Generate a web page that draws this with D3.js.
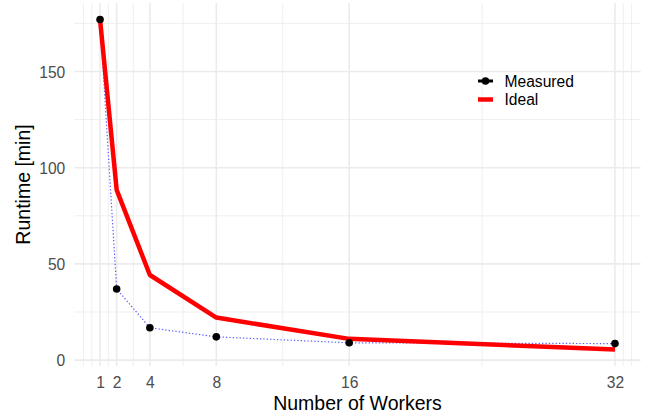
<!DOCTYPE html>
<html><head><meta charset="utf-8">
<script src="https://cdn.jsdelivr.net/npm/d3@7"></script>
<style>body{margin:0;background:#fff}svg{display:block;font-family:"Liberation Sans",Arial,Helvetica,sans-serif}</style>
</head><body><div id="chart"></div>
<script>
const workers = [1, 2, 4, 8, 16, 32];
const measured = [177, 37, 16.8, 12.1, 9, 8.6];
const ideal = [177, 88.5, 44.25, 22.125, 11.06, 5.53];
const xTicks = [1, 2, 4, 8, 16, 32];
const yTicks = [0, 50, 100, 150];
const xMinor = [0, 0.5, 1.5, 3, 6, 12, 24, 32.5, 33];
const yMinor = [25, 75, 125, 175];
const seriesNames = ["Measured", "Ideal"];

const W = 650, H = 418;
const svg = d3.select("#chart").append("svg").attr("width", W).attr("height", H);

const xe = d3.extent(workers), xs = (xe[1]-xe[0])*0.05;
const allY = measured.concat(ideal);
const ye = d3.extent(allY), ys = (ye[1]-ye[0])*0.05;
const x = d3.scaleLinear().domain([xe[0]-xs, xe[1]+xs]).range([74.3, 640.7]);
const y = d3.scaleLinear().domain([ye[0]-ys, ye[1]+ys]).range([366, 3]);
const [px0, px1] = x.range(), [py1, py0] = y.range();

const grid = svg.append("g");
grid.selectAll(".vmin").data(xMinor).join("line")
  .attr("x1", d=>x(d)).attr("x2", d=>x(d)).attr("y1", py0).attr("y2", py1)
  .attr("stroke", "#EBEBEB").attr("stroke-width", 0.8);
grid.selectAll(".hmin").data(yMinor).join("line")
  .attr("y1", d=>y(d)).attr("y2", d=>y(d)).attr("x1", px0).attr("x2", px1)
  .attr("stroke", "#EBEBEB").attr("stroke-width", 0.8);
grid.selectAll(".vmaj").data(xTicks).join("line")
  .attr("x1", d=>x(d)).attr("x2", d=>x(d)).attr("y1", py0).attr("y2", py1)
  .attr("stroke", "#EBEBEB").attr("stroke-width", 1.6);
grid.selectAll(".hmaj").data(yTicks).join("line")
  .attr("y1", d=>y(d)).attr("y2", d=>y(d)).attr("x1", px0).attr("x2", px1)
  .attr("stroke", "#EBEBEB").attr("stroke-width", 1.6);

// axes (text only)
const xAxis = svg.append("g").attr("transform", `translate(0,${py1})`)
  .call(d3.axisBottom(x).tickValues(xTicks).tickSize(0).tickPadding(0).tickFormat(d3.format("d")));
xAxis.select(".domain").remove();
xAxis.selectAll("text").attr("y", 22).attr("dy", 0).attr("font-size", 15.6).attr("fill", "#4D4D4D")
  .attr("font-family", '"Liberation Sans",Arial,sans-serif');
const yAxis = svg.append("g").attr("transform", `translate(${px0},0)`)
  .call(d3.axisLeft(y).tickValues(yTicks).tickSize(0).tickPadding(0).tickFormat(d3.format("d")));
yAxis.select(".domain").remove();
yAxis.selectAll("text").attr("x", -9).attr("dy", "0.36em").attr("font-size", 15.6).attr("fill", "#4D4D4D")
  .attr("font-family", '"Liberation Sans",Arial,sans-serif');

svg.append("text").attr("x", (px0+px1)/2).attr("y", 410).attr("text-anchor", "middle")
  .attr("font-size", 19.5).attr("fill", "#000").text("Number of Workers");
svg.append("text").attr("transform", `translate(30,${(py0+py1)/2}) rotate(-90)`).attr("text-anchor", "middle")
  .attr("font-size", 19.5).attr("fill", "#000").text("Runtime [min]");

const line = d3.line().x(d=>x(d[0])).y(d=>y(d[1]));
const mData = workers.map((w,i)=>[w, measured[i]]);
const iData = workers.map((w,i)=>[w, ideal[i]]);

svg.append("path").attr("d", line(mData)).attr("fill", "none")
  .attr("stroke", "#5A5AFF").attr("stroke-width", 1.2).attr("stroke-dasharray", "1.3,2.1");
svg.append("path").attr("d", line(iData)).attr("fill", "none")
  .attr("stroke", "#FF0000").attr("stroke-width", 4.5).attr("stroke-linejoin", "round");
svg.selectAll(".pt").data(mData).join("circle")
  .attr("cx", d=>x(d[0])).attr("cy", d=>y(d[1])).attr("r", 3.8).attr("fill", "#000");

// legend
const lg = svg.append("g").attr("transform", "translate(478,81)");
lg.append("line").attr("x1", 0).attr("x2", 15).attr("y1", 0).attr("y2", 0).attr("stroke", "#000").attr("stroke-width", 3);
lg.append("circle").attr("cx", 7.5).attr("cy", 0).attr("r", 3.8).attr("fill", "#000");
lg.append("line").attr("x1", 0).attr("x2", 15).attr("y1", 18.5).attr("y2", 18.5).attr("stroke", "#FF0000").attr("stroke-width", 4.5);
lg.selectAll(".lt").data(seriesNames).join("text")
  .attr("x", 26.5).attr("y", (d,i)=>i*18.5).attr("dy", "0.36em").attr("font-size", 15.6).attr("fill", "#000").text(d=>d);
</script></body></html>
